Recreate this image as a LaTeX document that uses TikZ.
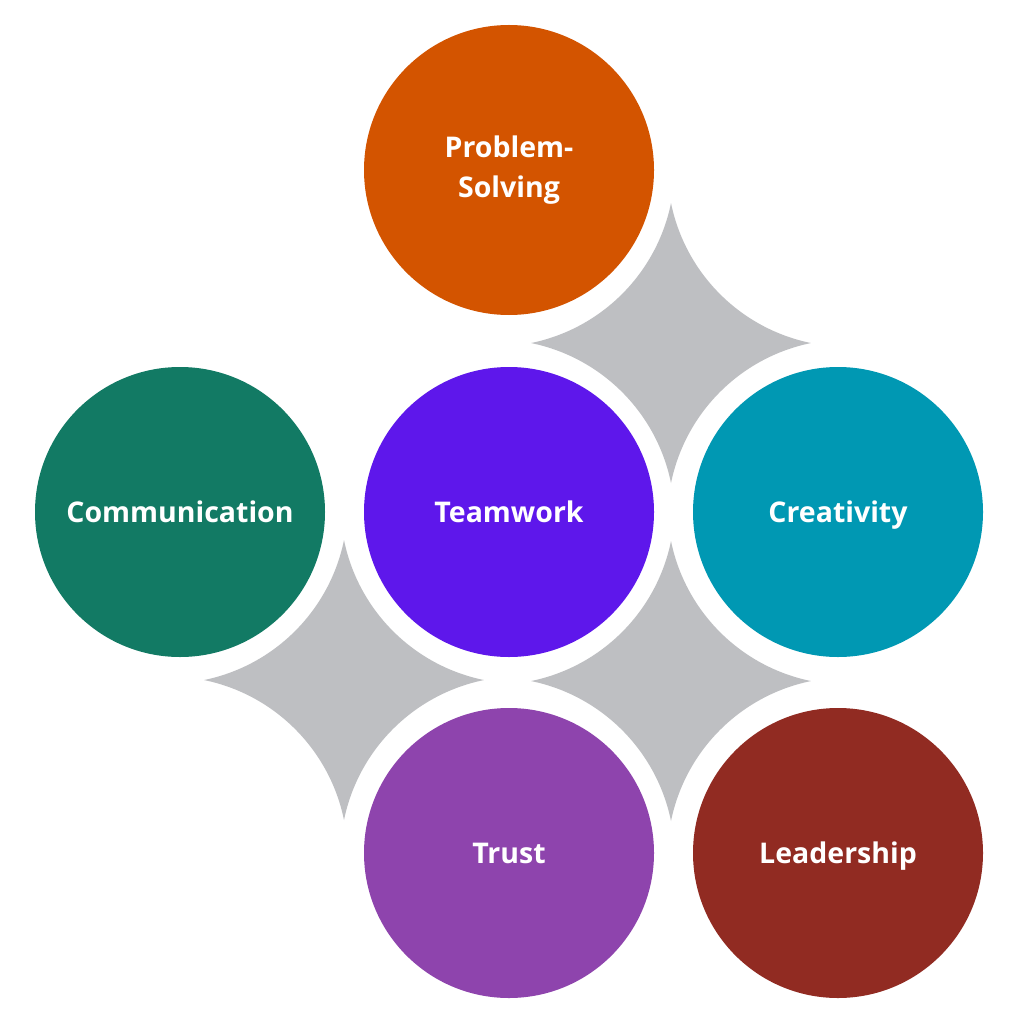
\documentclass[tikz,border=0pt]{standalone}
\usepackage{fontspec}
\setmainfont{Open Sans}
\definecolor{cPS}{HTML}{D35400}
\definecolor{cCom}{HTML}{127A64}
\definecolor{cTeam}{HTML}{5E17EB}
\definecolor{cCre}{HTML}{0098B3}
\definecolor{cTrust}{HTML}{8E44AD}
\definecolor{cLead}{HTML}{912B22}
\definecolor{cStar}{HTML}{BEBFC2}
\tikzset{
  circ/.style={circle, minimum size=290pt, inner sep=0pt, text=white,
    font=\fontsize{28.5pt}{40pt}\selectfont\bfseries, align=center},
  oneline/.style={text height=21pt, text depth=0pt}
}
\newcommand{\fourstar}[1]{%
  \fill[cStar, shift={#1}] (0,140) arc[start angle=191.56, end angle=258.44, radius=179.6]
    arc[start angle=101.56, end angle=168.44, radius=179.6]
    arc[start angle=11.56, end angle=78.44, radius=179.6]
    arc[start angle=-78.44, end angle=-11.56, radius=179.6] -- cycle;}
\begin{document}
\begin{tikzpicture}[x=1pt,y=-1pt]
\fill[white] (0,0) rectangle (1024,1024);
\useasboundingbox (0,0) rectangle (1024,1024);
\fourstar{(671,343)}
\fourstar{(344,680)}
\fourstar{(671,681)}
\node[circ, fill=cPS] (ps) at (509,170) {Problem-\\Solving};
\node[circ, oneline, fill=cCom] (com) at (180,512) {Communication};
\node[circ, oneline, fill=cTeam] (team) at (509,512) {Teamwork};
\node[circ, oneline, fill=cCre] (cre) at (838,512) {Creativity};
\node[circ, oneline, fill=cTrust] (trust) at (509,853) {Trust};
\node[circ, oneline, fill=cLead] (lead) at (838,853) {Leadership};
\end{tikzpicture}
\end{document}
